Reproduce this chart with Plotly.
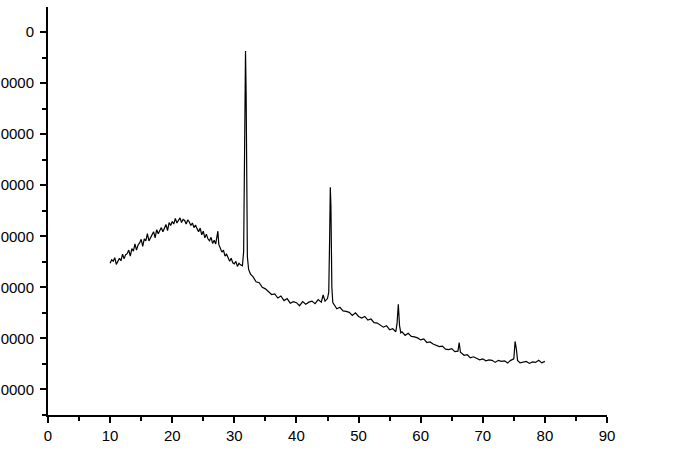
import plotly.graph_objects as go

# 2-theta (deg) and intensity
two_theta = [
    10.0, 10.25, 10.5, 10.75, 11.0, 11.25, 11.5, 11.75, 12.0, 12.25,
    12.5, 12.75, 13.0, 13.25, 13.5, 13.75, 14.0, 14.25, 14.5, 14.75,
    15.0, 15.25, 15.5, 15.75, 16.0, 16.25, 16.5, 16.75, 17.0, 17.25,
    17.5, 17.75, 18.0, 18.25, 18.5, 18.75, 19.0, 19.25, 19.5, 19.75,
    20.0, 20.25, 20.5, 20.75, 21.0, 21.25, 21.5, 21.75, 22.0, 22.25,
    22.5, 22.75, 23.0, 23.25, 23.5, 23.75, 24.0, 24.25, 24.5, 24.75,
    25.0, 25.25, 25.5, 25.75, 26.0, 26.25, 26.5, 26.75, 27.0, 27.2,
    27.35, 27.5, 27.75, 28.0, 28.25, 28.5, 28.75, 29.0, 29.25, 29.5,
    29.75, 30.0, 30.25, 30.5, 30.75, 31.0, 31.3, 31.5, 31.6, 31.7,
    31.8, 31.9, 32.0, 32.1, 32.3, 32.6, 33.0, 33.5, 34.0, 34.5,
    35.0, 35.5, 36.0, 36.5, 37.0, 37.5, 38.0, 38.5, 39.0, 39.5,
    40.0, 40.5, 41.0, 41.5, 42.0, 42.5, 43.0, 43.5, 44.0, 44.3,
    44.6, 45.0, 45.2, 45.35, 45.45, 45.55, 45.7, 45.85, 46.0, 46.5,
    47.0, 47.5, 48.0, 48.5, 49.0, 49.5, 50.0, 50.5, 51.0, 51.5,
    52.0, 52.5, 53.0, 53.5, 54.0, 54.5, 55.0, 55.5, 56.0, 56.2,
    56.4, 56.6, 56.8, 57.0, 57.5, 58.0, 58.5, 59.0, 59.5, 60.0,
    60.5, 61.0, 61.5, 62.0, 62.5, 63.0, 63.5, 64.0, 64.5, 65.0,
    65.5, 66.0, 66.2, 66.4, 66.7, 67.0, 67.5, 68.0, 68.5, 69.0,
    69.5, 70.0, 70.5, 71.0, 71.5, 72.0, 72.5, 73.0, 73.5, 74.0,
    74.5, 75.0, 75.2, 75.4, 75.6, 76.0, 76.5, 77.0, 77.5, 78.0,
    78.5, 79.0, 79.5, 80.0,
]
intensity = [
    -45300, -44600, -44900, -44200, -45500, -44700, -44300, -44800, -43500, -44400,
    -43600, -43400, -42700, -43900, -42400, -42900, -41500, -42700, -41700, -41300,
    -40600, -42000, -40500, -40900, -39500, -40900, -40200, -39800, -39100, -40300,
    -38700, -39500, -38900, -38300, -39100, -38200, -37700, -38900, -37300, -37900,
    -37100, -37600, -36500, -37400, -36900, -36400, -37300, -36700, -36900, -37600,
    -36800, -37200, -37900, -37400, -38300, -37800, -38500, -39100, -38400, -39700,
    -39000, -40300, -39600, -40500, -40900, -40200, -41400, -40800, -41500, -40000,
    -39000, -41600, -42300, -43100, -42700, -43900, -43500, -44200, -44900, -44300,
    -45200, -45400, -44900, -45900, -45300, -45600, -45800, -43000, -25000, -8000,
    -3700, -12000, -28000, -44000, -46500, -47400, -47900, -48900, -49100, -50000,
    -50300, -50800, -51400, -51300, -52100, -51700, -52600, -52200, -53100, -52800,
    -53000, -53600, -52800, -53300, -52900, -52700, -53200, -52400, -52900, -51500,
    -52700, -52200, -51000, -40000, -30400, -34000, -50000, -53000, -53300, -54200,
    -53900, -54600, -54700, -54900, -55500, -55000, -55700, -56000, -55700, -56400,
    -56200, -56900, -57000, -57400, -57800, -57500, -58300, -58100, -58700, -57000,
    -53300, -57500, -58900, -58700, -59400, -59000, -59600, -59700, -59900, -60300,
    -60100, -60800, -60700, -61100, -61300, -61600, -61500, -62100, -62200, -62000,
    -62600, -62500, -60800, -62700, -63000, -63300, -63200, -63800, -63600, -63900,
    -64200, -64000, -64400, -64200, -64300, -64700, -64300, -64500, -64400, -64800,
    -64300, -64000, -60600, -62000, -64300, -64800, -64600, -64500, -64900, -64600,
    -64700, -64300, -64800, -64500,
]

x_ticks = [0, 10, 20, 30, 40, 50, 60, 70, 80, 90]
y_ticks = [-70000, -60000, -50000, -40000, -30000, -20000, -10000, 0]
# tick labels as they appear (cut off on the left in the source image)
y_labels = ['0000', '0000', '0000', '0000', '0000', '0000', '0000', '0']

fig = go.Figure()
fig.add_trace(go.Scatter(
    x=two_theta, y=intensity, mode='lines',
    line=dict(color='black', width=1.2),
    showlegend=False,
))

axis_style = dict(
    showline=True, linecolor='black', linewidth=2,
    ticks='outside', ticklen=6, tickwidth=2, tickcolor='black',
    showgrid=False, zeroline=False, automargin=False,
    tickfont=dict(family='Liberation Sans, Arial', size=15, color='black'),
)

fig.update_layout(
    template='none',
    width=681, height=460,
    margin=dict(l=48, r=74, t=7, b=45),
    paper_bgcolor='white', plot_bgcolor='white',
    xaxis=dict(range=[0, 90], tickvals=x_ticks,
               minor=dict(dtick=5, tick0=0, ticks='outside', ticklen=4,
                          tickwidth=2, tickcolor='black'),
               **axis_style),
    yaxis=dict(range=[-75000, 4900], tickvals=y_ticks, ticktext=y_labels,
               ticklabelstandoff=3,
               minor=dict(dtick=5000, tick0=0, ticks='outside', ticklen=4,
                          tickwidth=2, tickcolor='black'),
               **axis_style),
)

# reference has the plot flush with the page's top-left corner
fig.write_html('out.html', config={'displayModeBar': False},
               post_script="document.body.style.margin='0';")
